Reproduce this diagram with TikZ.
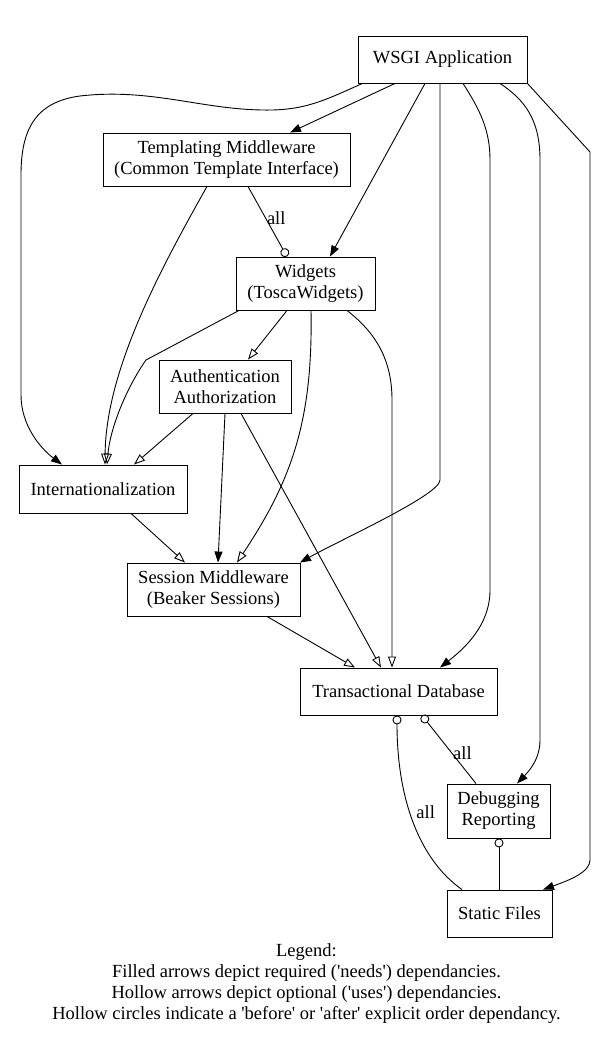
\documentclass[tikz,border=0pt]{standalone}
\usepackage{fontspec}
\setmainfont{Liberation Serif}
\usepackage{tikz}
\usetikzlibrary{arrows.meta,calc,positioning}
\tikzset{
  box/.style={draw,line width=0.9pt,inner sep=0pt,align=center,font=\fontsize{18.5}{21}\selectfont},
  lbl/.style={inner sep=1pt,font=\fontsize{18.5}{21}\selectfont},
  need/.style={line width=0.9pt,-{Triangle[length=11pt,width=8pt]}},
  use/.style={line width=0.9pt,-{Triangle[open,length=11pt,width=8pt]}},
  order/.style={line width=0.9pt,-{Circle[open,length=9pt,width=9pt]}}
}
\newcommand{\sq}{\textquotesingle}
\begin{document}
\begin{tikzpicture}[x=1pt,y=-1pt]
\useasboundingbox (0,0) rectangle (612,1040);
\node[box,minimum width=169pt,minimum height=47pt] (wsgi) at (442.5,59.5) {WSGI Application};
\node[box,minimum width=247pt,minimum height=53pt] (tmpl) at (226.5,159.5) {Templating Middleware\\(Common Template Interface)};
\node[box,minimum width=139pt,minimum height=53pt] (widgets) at (305.5,283.5) {Widgets\\(ToscaWidgets)};
\node[box,minimum width=132pt,minimum height=53pt] (auth) at (225,386.5) {Authentication\\Authorization};
\node[box,minimum width=168pt,minimum height=48pt] (intl) at (103,489) {Internationalization};
\node[box,minimum width=173pt,minimum height=53pt] (session) at (213.5,589.5) {Session Middleware\\(Beaker Sessions)};
\node[box,minimum width=197pt,minimum height=47pt] (db) at (398.5,691.5) {Transactional Database};
\node[box,minimum width=103pt,minimum height=54pt] (debug) at (498.5,811) {Debugging\\Reporting};
\node[box,minimum width=105pt,minimum height=47pt] (static) at (499.5,913.5) {Static Files};
\node[lbl,align=center] (legend) at (306.5,984) {Legend:\\Filled arrows depict required (\sq needs\sq) dependancies.\\Hollow arrows depict optional (\sq uses\sq) dependancies.\\Hollow circles indicate a \sq before\sq{} or \sq after\sq{} explicit order dependancy.};

\draw[need] ([xshift=-47.5pt]wsgi.south) -- ([xshift=63.5pt]tmpl.north);
\draw[need] ([xshift=-80pt]wsgi.south) .. controls (325,100) and (305,111) .. (262,110)
  .. controls (200,109) and (150,88) .. (80,96) .. controls (35,102) and (21,130) .. (21,175)
  -- (21,395) .. controls (21,425) and (40,448) .. ([xshift=-41pt]intl.north);
\draw[need] ([xshift=-17.5pt]wsgi.south) -- ([xshift=24.5pt]widgets.north);
\draw[need] ([xshift=-2.5pt]wsgi.south) -- (440,480) .. controls (440,495) and (340,540) .. ([xshift=86.5pt]session.north);
\draw[need] ([xshift=20.5pt]wsgi.south) .. controls (480,110) and (490,130) .. (490,160)
  -- (490,590) .. controls (490,625) and (465,648) .. ([xshift=41.5pt]db.north);
\draw[need] ([xshift=57.5pt]wsgi.south) .. controls (525,100) and (540,120) .. (540,160)
  -- (540,740) .. controls (540,760) and (528,772) .. ([xshift=18.5pt]debug.north);
\draw[need] (wsgi.south east) -- (590,152) -- (590,860) .. controls (590,872) and (570,880) .. ([xshift=43.5pt]static.north);

\draw[order] ([xshift=21.5pt]tmpl.south) -- node[lbl,right,pos=0.45] (allA) {all} ([xshift=-18.5pt]widgets.north);
\draw[use] ([xshift=-19.5pt]tmpl.south) .. controls (160,270) and (106,370) .. ([xshift=2pt]intl.north);

\draw[use] ([xshift=-66.5pt]widgets.south) -- (146,360) .. controls (125,390) and (110,430) .. ([xshift=4pt]intl.north);
\draw[use] ([xshift=-18.5pt]widgets.south) -- ([xshift=23pt]auth.north);
\draw[use] ([xshift=5.5pt]widgets.south) .. controls (313,420) and (292,480) .. ([xshift=23.5pt]session.north);
\draw[use] ([xshift=41.5pt]widgets.south) .. controls (376,333) and (392,360) .. (392,400) -- ([xshift=-6.5pt]db.north);

\draw[use] ([xshift=-32pt]auth.south) -- ([xshift=31pt]intl.north);
\draw[need] (auth.south) -- ([xshift=4.5pt]session.north);
\draw[use] ([xshift=16pt]auth.south) -- ([xshift=-17.5pt]db.north);

\draw[use] ([xshift=28pt]intl.south) -- ([xshift=-28.5pt]session.north);
\draw[use] ([xshift=53.5pt]session.south) -- ([xshift=-43.5pt]db.north);

\draw[order] ([xshift=-22.5pt]debug.north) -- node[lbl,right,pos=0.45] (allB) {all} ([xshift=23.5pt]db.south);
\draw[order] ([xshift=-37.5pt]static.north) .. controls (420,860) and (397,800) .. node[lbl,right,pos=0.56,xshift=5pt] (allC) {all} ([xshift=-1.5pt]db.south);
\draw[order] ([xshift=-0.5pt]static.north) -- ([xshift=0.5pt]debug.south);
\end{tikzpicture}
\end{document}
